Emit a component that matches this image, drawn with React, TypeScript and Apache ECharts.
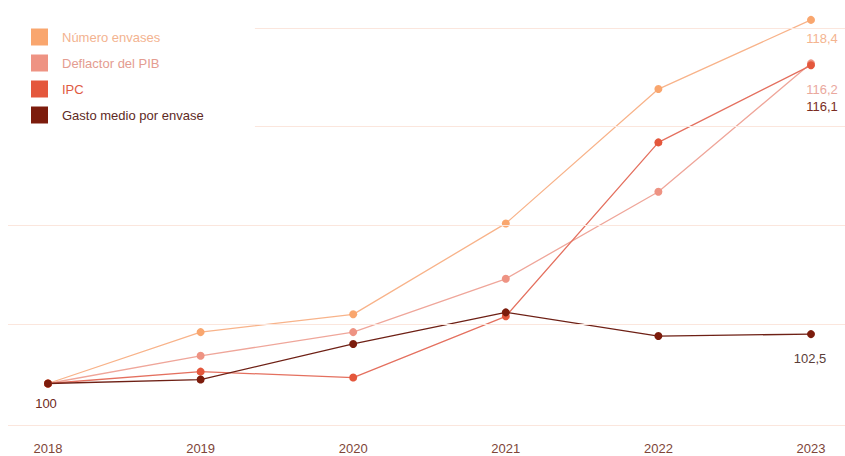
import React, { useEffect, useRef } from 'react';
import * as echarts from 'echarts';

const years = ['2018', '2019', '2020', '2021', '2022', '2023'];
const numeroEnvases = [100, 102.6, 103.5, 108.1, 114.9, 118.4];
const deflactorPIB = [100, 101.4, 102.6, 105.3, 109.7, 116.2];
const ipc = [100, 100.6, 100.3, 103.4, 112.2, 116.1];
const gastoMedio = [100, 100.2, 102.0, 103.6, 102.4, 102.5];
const gridValues = [97.9, 103, 108, 113, 118];

const FONT = 'Liberation Sans, Arial, Helvetica, sans-serif';
const fmt = (v: number) => String(v).replace('.', ',');

const SERIES = [
  { name: 'Número envases', data: numeroEnvases, color: '#F9A66E', line: '#F8B38A', text: '#F3B390' },
  { name: 'Deflactor del PIB', data: deflactorPIB, color: '#EE9383', line: '#EFA69A', text: '#E49C90' },
  { name: 'IPC', data: ipc, color: '#E4573C', line: '#E4705F', text: '#E05A42' },
  { name: 'Gasto medio por envase', data: gastoMedio, color: '#7C1C0C', line: '#6E2015', text: '#5E2A24' },
];

// label settings (which point, colour, offset)
const LABELS: Record<string, { idx: number; color: string; offset: [number, number] }[]> = {
  'Número envases': [{ idx: 5, color: '#F4B48F', offset: [11, 8.5] }],
  'Deflactor del PIB': [{ idx: 5, color: '#EAA89D', offset: [11, 15.5] }],
  IPC: [{ idx: 5, color: '#7A2C22', offset: [11, 31] }],
  'Gasto medio por envase': [
    { idx: 0, color: '#6E2A22', offset: [-2, 9.5] },
    { idx: 5, color: '#5A3D38', offset: [-1, 13.5] },
  ],
};

export default function App() {
  const ref = useRef<HTMLDivElement>(null);
  useEffect(() => {
    if (!ref.current) return;
    const chart = echarts.init(ref.current, undefined, { renderer: 'svg' });

    const yMin = 97.9;
    const yMax = 118.9;

    const mainSeries = SERIES.map((s) => {
      const labs = LABELS[s.name] || [];
      return {
        name: s.name,
        type: 'line',
        xAxisIndex: 0,
        yAxisIndex: 0,
        symbol: 'circle',
        symbolSize: 8,
        showAllSymbol: true,
        itemStyle: { color: s.color },
        lineStyle: { color: s.line, width: 1.3 },
        emphasis: { disabled: true },
        data: s.data.map((v, i) => {
          const l = labs.find((x) => x.idx === i);
          if (!l) return v;
          return {
            value: v,
            label: {
              show: true,
              position: 'bottom',
              distance: 0,
              offset: l.offset,
              formatter: fmt(v),
              color: l.color,
              fontSize: 13,
              fontFamily: FONT,
            },
          };
        }),
      };
    });

    const gridLineData: any[] = gridValues.map((g) =>
      g < 110 ? { yAxis: g } : [{ coord: [0.295, g] }, { coord: [1, g] }]
    );

    chart.setOption({
      animation: false,
      backgroundColor: '#ffffff',
      textStyle: { fontFamily: FONT },
      grid: [
        { left: 48, right: 34, top: 10, bottom: 31 },
        { left: 8, right: 0, top: 10, bottom: 31 },
      ],
      legend: {
        orient: 'vertical',
        left: 26,
        top: 23.5,
        icon: 'rect',
        itemWidth: 17,
        itemHeight: 17,
        itemGap: 9,
        selectedMode: false,
        itemStyle: { borderWidth: 0 },
        textStyle: { fontSize: 13, fontFamily: FONT, padding: [0, 0, 0, 9] },
        data: SERIES.map((s) => ({ name: s.name, textStyle: { color: s.text } })),
      },
      xAxis: [
        {
          type: 'category',
          gridIndex: 0,
          data: years,
          boundaryGap: false,
          axisLine: { show: false },
          axisTick: { show: false },
          splitLine: { show: false },
          axisLabel: { color: '#7E4538', fontSize: 13, margin: 17, fontFamily: FONT },
        },
        { type: 'value', gridIndex: 1, min: 0, max: 1, show: false },
      ],
      yAxis: [
        { type: 'value', gridIndex: 0, min: yMin, max: yMax, show: false, splitLine: { show: false } },
        { type: 'value', gridIndex: 1, min: yMin, max: yMax, show: false, splitLine: { show: false } },
      ],
      series: [
        {
          type: 'line',
          xAxisIndex: 1,
          yAxisIndex: 1,
          data: [[0, yMin]],
          showSymbol: false,
          silent: true,
          z: 0,
          lineStyle: { width: 0 },
          markLine: {
            silent: true,
            symbol: 'none',
            label: { show: false },
            lineStyle: { color: '#FBE6DD', width: 1, type: 'solid' },
            data: gridLineData,
          },
        },
        ...mainSeries,
      ],
    });
    return () => chart.dispose();
  }, []);

  return (
    <div
      ref={ref}
      style={{ position: 'absolute', left: 0, top: 0, width: 845, height: 456 }}
    />
  );
}
